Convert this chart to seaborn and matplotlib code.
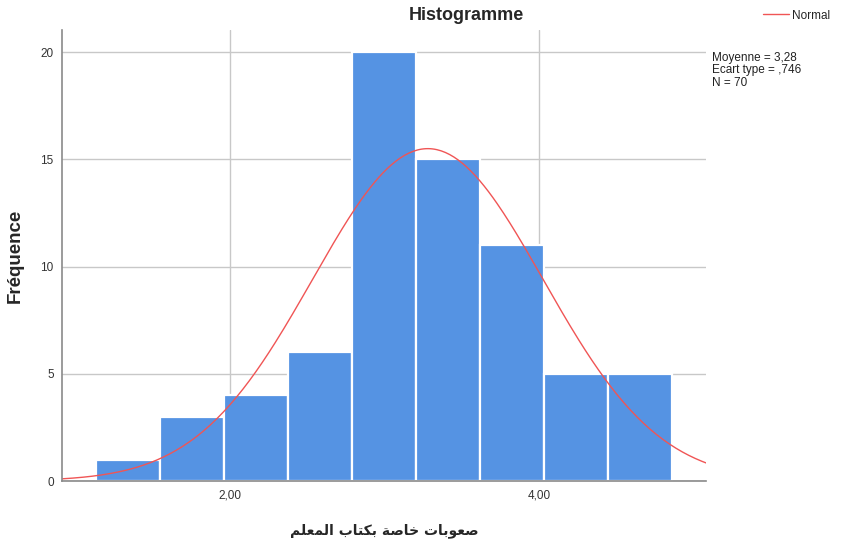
import numpy as np
import pandas as pd
import matplotlib
matplotlib.use("Agg")
import matplotlib.pyplot as plt
import seaborn as sns

# data
bin_edges = [1.131, 1.545, 1.960, 2.374, 2.789, 3.203, 3.617, 4.032, 4.446, 4.861]
counts = [1, 3, 4, 6, 20, 15, 11, 5, 5]
mean_val = 3.28
sd_val = 0.746
n_obs = 70
x_ticks = [2.0, 4.0]
x_tick_labels = ["2,00", "4,00"]
y_ticks = [0, 5, 10, 15, 20]
stats_lines = ["Moyenne = 3,28", "Ecart type = ,746", "N = 70"]
x_title = "صعوبات خاصة بكتاب المعلم"

# simple arabic shaping (matplotlib has no shaping / bidi)
forms = {
    'ا': (0xFE8D, 0xFE8E, None, None),
    'ب': (0xFE8F, 0xFE90, 0xFE91, 0xFE92),
    'ت': (0xFE95, 0xFE96, 0xFE97, 0xFE98),
    'ة': (0xFE93, 0xFE94, None, None),
    'خ': (0xFEA5, 0xFEA6, 0xFEA7, 0xFEA8),
    'ص': (0xFEB9, 0xFEBA, 0xFEBB, 0xFEBC),
    'ع': (0xFEC9, 0xFECA, 0xFECB, 0xFECC),
    'ك': (0xFED9, 0xFEDA, 0xFEDB, 0xFEDC),
    'ل': (0xFEDD, 0xFEDE, 0xFEDF, 0xFEE0),
    'م': (0xFEE1, 0xFEE2, 0xFEE3, 0xFEE4),
    'و': (0xFEED, 0xFEEE, None, None),
}


def shape_arabic(s):
    out = []
    for i, ch in enumerate(s):
        if ch not in forms:
            out.append(ch)
            continue
        prev = s[i - 1] if i > 0 else ' '
        nxt = s[i + 1] if i + 1 < len(s) else ' '
        join_prev = prev in forms and forms[prev][2] is not None
        join_next = forms[ch][2] is not None and nxt in forms
        iso, fin, ini, med = forms[ch]
        if join_prev and join_next:
            out.append(chr(med))
        elif join_prev:
            out.append(chr(fin))
        elif join_next:
            out.append(chr(ini))
        else:
            out.append(chr(iso))
    return ''.join(out)[::-1]


# one value per observation at bin centres so histplot counts them
centres = [(bin_edges[i] + bin_edges[i + 1]) / 2 for i in range(len(counts))]
df = pd.DataFrame({"v": np.repeat(centres, counts)})

sns.set_style("white")
plt.rcParams['font.family'] = ['Liberation Sans', 'DejaVu Sans']

fig = plt.figure(figsize=(8.44, 5.41), dpi=100)
ax = fig.add_axes([62 / 844, 1 - 481 / 541, (706 - 62) / 844, (481 - 30) / 541])

ax.set_axisbelow(True)
ax.grid(True, color="#c8c8c8", linewidth=1)

sns.histplot(data=df, x="v", bins=bin_edges, color="#5593e3", alpha=1,
             edgecolor="white", linewidth=1.6, ax=ax)

xlo, xhi = 0.913, 5.08
xs = np.linspace(xlo, xhi, 300)
bw = bin_edges[1] - bin_edges[0]
ys = n_obs * bw / (sd_val * np.sqrt(2 * np.pi)) * np.exp(-0.5 * ((xs - mean_val) / sd_val) ** 2)
sns.lineplot(x=xs, y=ys, color="#f05555", linewidth=1, ax=ax, label="Normal", legend=False)

ax.set_xlim(xlo, xhi)
ax.set_ylim(0, 21.03)
ax.set_xticks(x_ticks)
ax.set_xticklabels(x_tick_labels)
ax.set_yticks(y_ticks)
ax.tick_params(length=0, labelsize=8.5, colors="#333333", pad=6)

for side in ["top", "right"]:
    ax.spines[side].set_visible(False)
for side in ["left", "bottom"]:
    ax.spines[side].set_color("#8a8a8a")
    ax.spines[side].set_linewidth(1.2)

ax.set_xlabel(shape_arabic(x_title), fontsize=10, fontweight="bold",
              family="DejaVu Sans", labelpad=16)
ax.set_ylabel("Fréquence", fontsize=13.5, fontweight="bold", labelpad=12)

fig.text(466 / 844, 1 - 15 / 541, "Histogramme", ha="center", va="center",
         fontsize=13, fontweight="bold")

fig.text(712 / 844, 1 - 52 / 541, "\n".join(stats_lines), ha="left", va="top",
         fontsize=8.5, linespacing=1.05, color="#222222")

fig.legend(handles=ax.get_lines()[-1:], labels=["Normal"], loc="upper left",
           bbox_to_anchor=(752 / 844, 1 + 1 / 541), frameon=False,
           fontsize=8.5, handlelength=2.2, handletextpad=0.3)

fig.savefig("out.png", dpi=100)
